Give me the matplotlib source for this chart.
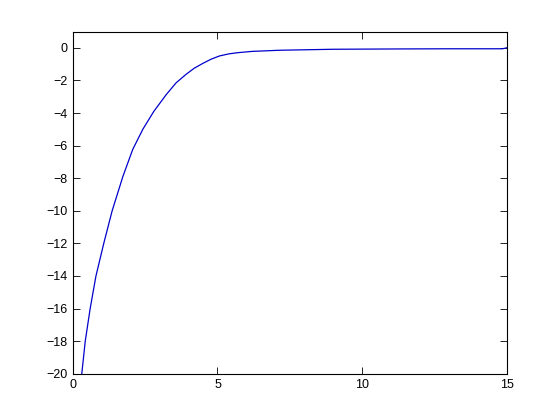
import matplotlib
matplotlib.use("Agg")
import matplotlib.pyplot as plt

# points
x = [0.31, 0.43, 0.60, 0.80, 1.07, 1.36, 1.73, 2.07, 2.42, 2.80,
     3.23, 3.57, 3.92, 4.20, 4.49, 4.78, 5.07, 5.40, 5.70, 6.20,
     7.15, 9.00, 11.3, 13.0, 14.85, 15.0]
y = [-20.0, -18.0, -16.0, -14.0, -12.0, -10.0, -7.9, -6.24, -5.0, -3.9,
     -2.87, -2.15, -1.62, -1.25, -0.96, -0.70, -0.50, -0.37, -0.30, -0.22,
     -0.15, -0.09, -0.07, -0.06, -0.06, 0.0]

xticks = [0, 5, 10, 15]
yticks = list(range(-20, 1, 2))

plt.rcParams['font.family'] = ['Liberation Sans', 'DejaVu Sans']

fig = plt.figure(figsize=(5.6, 4.2), dpi=100)
ax = fig.add_axes([0.13, 0.11, 0.775, 0.815])
ax.plot(x, y, color='#0000cc', linewidth=0.9)

ax.set_xlim(0, 15)
ax.set_ylim(-20, 1)
ax.set_xticks(xticks)
ax.set_yticks(yticks)
ax.tick_params(direction='in', length=5, width=0.6, top=True, right=True,
               labelsize=9, colors='black', pad=4)
for s in ax.spines.values():
    s.set_linewidth(0.8)

fig.savefig("out.png", dpi=100)
